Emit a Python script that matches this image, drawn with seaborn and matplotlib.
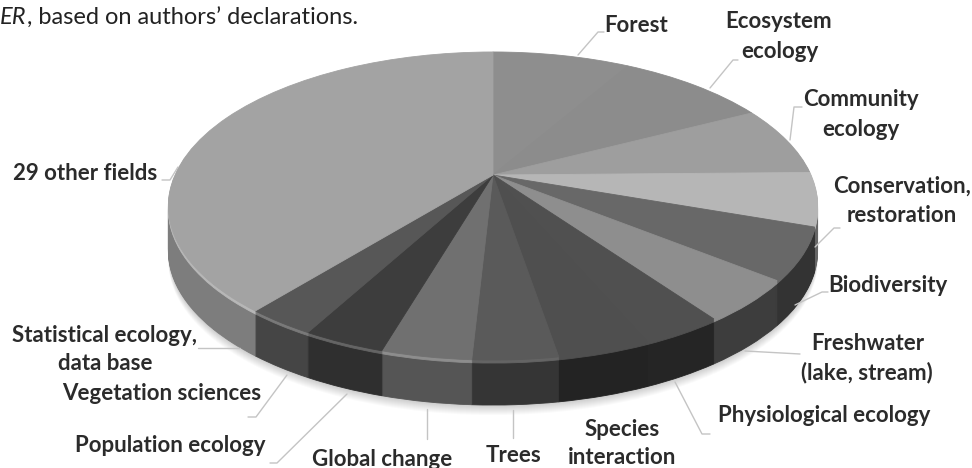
import matplotlib
matplotlib.use("Agg")
import matplotlib.pyplot as plt
import matplotlib.transforms as mtransforms
import numpy as np
import seaborn as sns

# Share of papers per field (percent)
fields = ["Forest", "Ecosystem ecology", "Community ecology", "Conservation, restoration",
          "Biodiversity", "Freshwater (lake, stream)", "Physiological ecology",
          "Species interaction", "Trees", "Global change", "Population ecology",
          "Vegetation sciences", "Statistical ecology, data base", "29 other fields"]
shares = [8.3, 9.1, 7.3, 5.6, 5.4, 4.4, 3.4, 3.8, 3.5, 3.7, 3.4, 2.9, 3.0, 36.1]
top_colors = ["#8e8e8e", "#8c8c8c", "#9e9e9e", "#b6b6b6", "#686868", "#8e8e8e", "#505050",
              "#4f4f4f", "#5a5a5a", "#707070", "#3d3d3d", "#575757", "#a3a3a3", "#a3a3a3"]
wall_colors = ["#555555", "#555555", "#5a5a5a", "#666666", "#333333", "#3d3d3d", "#252525",
               "#232323", "#353535", "#555555", "#2f2f2f", "#454545", "#7d7d7d", "#7d7d7d"]
bevel_amount = [0, 0, 0, 0, 0, 0, 0, 0, 0.06, 0.2, 0.2, 0.2, 0.22, 0.22]

label_texts = [
    ("Forest", 636, 25), ("Ecosystem", 779, 22), ("ecology", 780, 51),
    ("Community", 861, 100), ("ecology", 861, 130),
    ("Conservation,", 902, 186), ("restoration", 902, 216),
    ("Biodiversity", 888, 285), ("Freshwater", 868, 343), ("(lake, stream)", 867, 373),
    ("Physiological ecology", 824, 415), ("Species", 622, 429), ("interaction", 622, 457),
    ("Trees", 513, 455), ("Global change", 382, 459), ("Population ecology", 170, 445),
    ("Vegetation sciences", 162, 394), ("Statistical ecology,", 104, 335),
    ("data base", 105, 364), ("29 other fields", 85, 173),
]
leader_lines = [
    ([578, 598, 604], [55, 32, 32]), ([710, 733, 738], [88, 60, 60]),
    ([790, 794, 802], [140, 107, 107]), ([815, 834, 840], [247, 228, 228]),
    ([795, 822, 828], [305, 292, 292]), ([745, 800], [351, 354]),
    ([675, 702, 710], [382, 434, 434]), ([513, 513], [410, 438]),
    ([427, 427], [409, 439]), ([347, 277, 270], [394, 463, 463]),
    ([287, 256, 248], [375, 417, 417]), ([198, 240], [348, 348]),
    ([162, 170, 178], [180, 180, 167]),
]

APEX_X, APEX_Y = 493, 175
SCALE_X, SCALE_Y, TILT = 318, 147.8, 0.2013
DEPTH = 45


class Tilted(mtransforms.Transform):
    input_dims = 2
    output_dims = 2
    is_separable = False
    has_inverse = False

    def transform_non_affine(self, values):
        values = np.asarray(values, dtype=float)
        w = 1 + TILT * values[:, 1]
        return np.column_stack([APEX_X + SCALE_X * values[:, 0] / w,
                                APEX_Y - SCALE_Y * values[:, 1] / w])


def lighten(color, amount):
    rgb = np.array(matplotlib.colors.to_rgb(color))
    return rgb + (1 - rgb) * amount


sns.set_theme(style="white")
plt.rcParams["font.family"] = ["Lato", "DejaVu Sans"]

fig = plt.figure(figsize=(9.72, 4.68), dpi=100)
ax = fig.add_axes([0, 0, 1, 1])


def layer(colors, shift, alpha=None):
    wedges, _ = ax.pie(shares, colors=colors, startangle=90, counterclock=False)
    for w in wedges:
        if alpha is None:
            w.set_edgecolor(w.get_facecolor())
            w.set_linewidth(0.6)
        else:
            w.set_linewidth(0)
            w.set_alpha(alpha)
        w.set_transform(Tilted() + mtransforms.Affine2D().translate(0, shift) + ax.transData)


# soft shadow under the disc
for d in range(DEPTH + 10, DEPTH, -1):
    layer(["#000000"] * len(shares), d, alpha=0.018)
# side wall, stacked from the bottom up
for d in range(DEPTH, 3, -1):
    layer(wall_colors, d)
# thin bevel along the rim
for d in (3, 2, 1):
    layer([lighten(c, a) for c, a in zip(top_colors, bevel_amount)], d)
# top face
layer(top_colors, 0)

ax.set_aspect("auto")
ax.set_xlim(0, 972)
ax.set_ylim(468, 0)
ax.axis("off")

for xs, ys in leader_lines:
    ax.plot(xs, ys, color="#c4c4c4", lw=1.0, solid_capstyle="round", zorder=5)
for text, x, y in label_texts:
    ax.text(x, y, text, ha="center", va="center", fontsize=16, fontweight="bold",
            color="#2b2b2b", zorder=6)

ax.text(0, 18, "ER", style="italic", ha="left", va="center", fontsize=17, color="#222222")
ax.text(27, 18, ", based on authors\u2019 declarations.", ha="left", va="center",
        fontsize=17, color="#222222")

fig.savefig("out.png", dpi=100)
